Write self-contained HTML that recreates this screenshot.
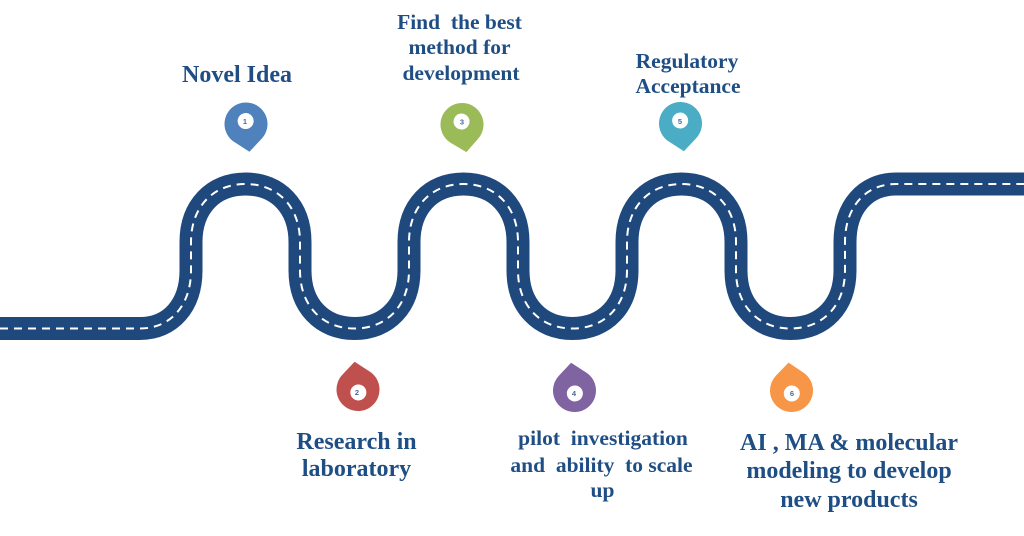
<!DOCTYPE html>
<html>
<head>
<meta charset="utf-8">
<style>
  html,body{margin:0;padding:0;background:#ffffff;}
  svg{display:block;}
  .t{font-family:"Liberation Serif","Times New Roman",serif;font-weight:bold;fill:#1f4e84;text-anchor:middle;white-space:pre;}
  .n{font-family:"Liberation Sans",sans-serif;font-weight:bold;font-size:7.5px;fill:#4a6a94;text-anchor:middle;}
</style>
</head>
<body>
<svg width="1024" height="536" viewBox="0 0 1024 536" xmlns="http://www.w3.org/2000/svg">
  <defs>
    <path id="pin" d="M0,28 L-13.76,16.5 A21.5,21.5 0 1 1 13.76,16.5 Z"/>
    <path id="road" d="M0,328.5 L140,328.5 C170.6,328.5 191,305.3 191,270.5 L191,242 C191,207.2 212.8,184 245.5,184 C278.2,184 300,207.2 300,242 L300,270.5 C300,305.3 321.8,328.5 354.5,328.5 C387.2,328.5 409,305.3 409,270.5 L409,242 C409,207.2 430.8,184 463.5,184 C496.2,184 518,207.2 518,242 L518,270.5 C518,305.3 539.8,328.5 572.5,328.5 C605.2,328.5 627,305.3 627,270.5 L627,242 C627,207.2 648.8,184 681.5,184 C714.2,184 736,207.2 736,242 L736,270.5 C736,305.3 757.8,328.5 790.5,328.5 C823.2,328.5 845,305.3 845,270.5 L845,242 C845,207.2 865.4,184 896,184 L1024,184"/>
  </defs>

  <!-- Road -->
  <use href="#road" fill="none" stroke="#1f497d" stroke-width="23"/>
  <use href="#road" fill="none" stroke="#ffffff" stroke-width="2" stroke-dasharray="8 6"/>

  <!-- Top pins -->
  <g transform="translate(246,124) rotate(-7)">
    <use href="#pin" fill="#4f81bd"/>
    <circle cx="0" cy="-3" r="8" fill="#ffffff"/>
  </g>
  <text class="n" x="245" y="124">1</text>

  <g transform="translate(462,124.5) rotate(-9)">
    <use href="#pin" fill="#9bbb59"/>
    <circle cx="0" cy="-3" r="8" fill="#ffffff"/>
  </g>
  <text class="n" x="462" y="124.5">3</text>

  <g transform="translate(680.5,123.5) rotate(-7)">
    <use href="#pin" fill="#4bacc6"/>
    <circle cx="0" cy="-3" r="8" fill="#ffffff"/>
  </g>
  <text class="n" x="680" y="124">5</text>

  <!-- Bottom pins -->
  <g transform="translate(358,389.5) rotate(173)">
    <use href="#pin" fill="#c0504d"/>
    <circle cx="0" cy="-3" r="8" fill="#ffffff"/>
  </g>
  <text class="n" x="357" y="395">2</text>

  <g transform="translate(574.5,390.5) rotate(173)">
    <use href="#pin" fill="#8064a2"/>
    <circle cx="0" cy="-3" r="8" fill="#ffffff"/>
  </g>
  <text class="n" x="574" y="396">4</text>

  <g transform="translate(791.5,390.5) rotate(174)">
    <use href="#pin" fill="#f79646"/>
    <circle cx="0" cy="-3" r="8" fill="#ffffff"/>
  </g>
  <text class="n" x="792" y="396">6</text>

  <!-- Top labels -->
  <text class="t" x="237" y="82" font-size="24">Novel Idea</text>

  <text class="t" x="459.5" y="29" font-size="21.5">Find  the best</text>
  <text class="t" x="459.5" y="54" font-size="21.5">method for</text>
  <text class="t" x="461" y="80" font-size="21.5">development</text>

  <text class="t" x="687" y="68" font-size="21.5">Regulatory</text>
  <text class="t" x="688" y="93" font-size="21.5">Acceptance</text>

  <!-- Bottom labels -->
  <text class="t" x="356.5" y="449" font-size="24">Research in</text>
  <text class="t" x="356.5" y="476" font-size="24">laboratory</text>

  <text class="t" x="603" y="445" font-size="21.5">pilot  investigation</text>
  <text class="t" x="601.5" y="472" font-size="21.5">and  ability  to scale</text>
  <text class="t" x="602.5" y="497" font-size="21.5">up</text>

  <text class="t" x="849" y="450" font-size="24">AI , MA &amp; molecular</text>
  <text class="t" x="849" y="478" font-size="24">modeling to develop</text>
  <text class="t" x="849" y="507" font-size="24">new products</text>
</svg>
</body>
</html>
